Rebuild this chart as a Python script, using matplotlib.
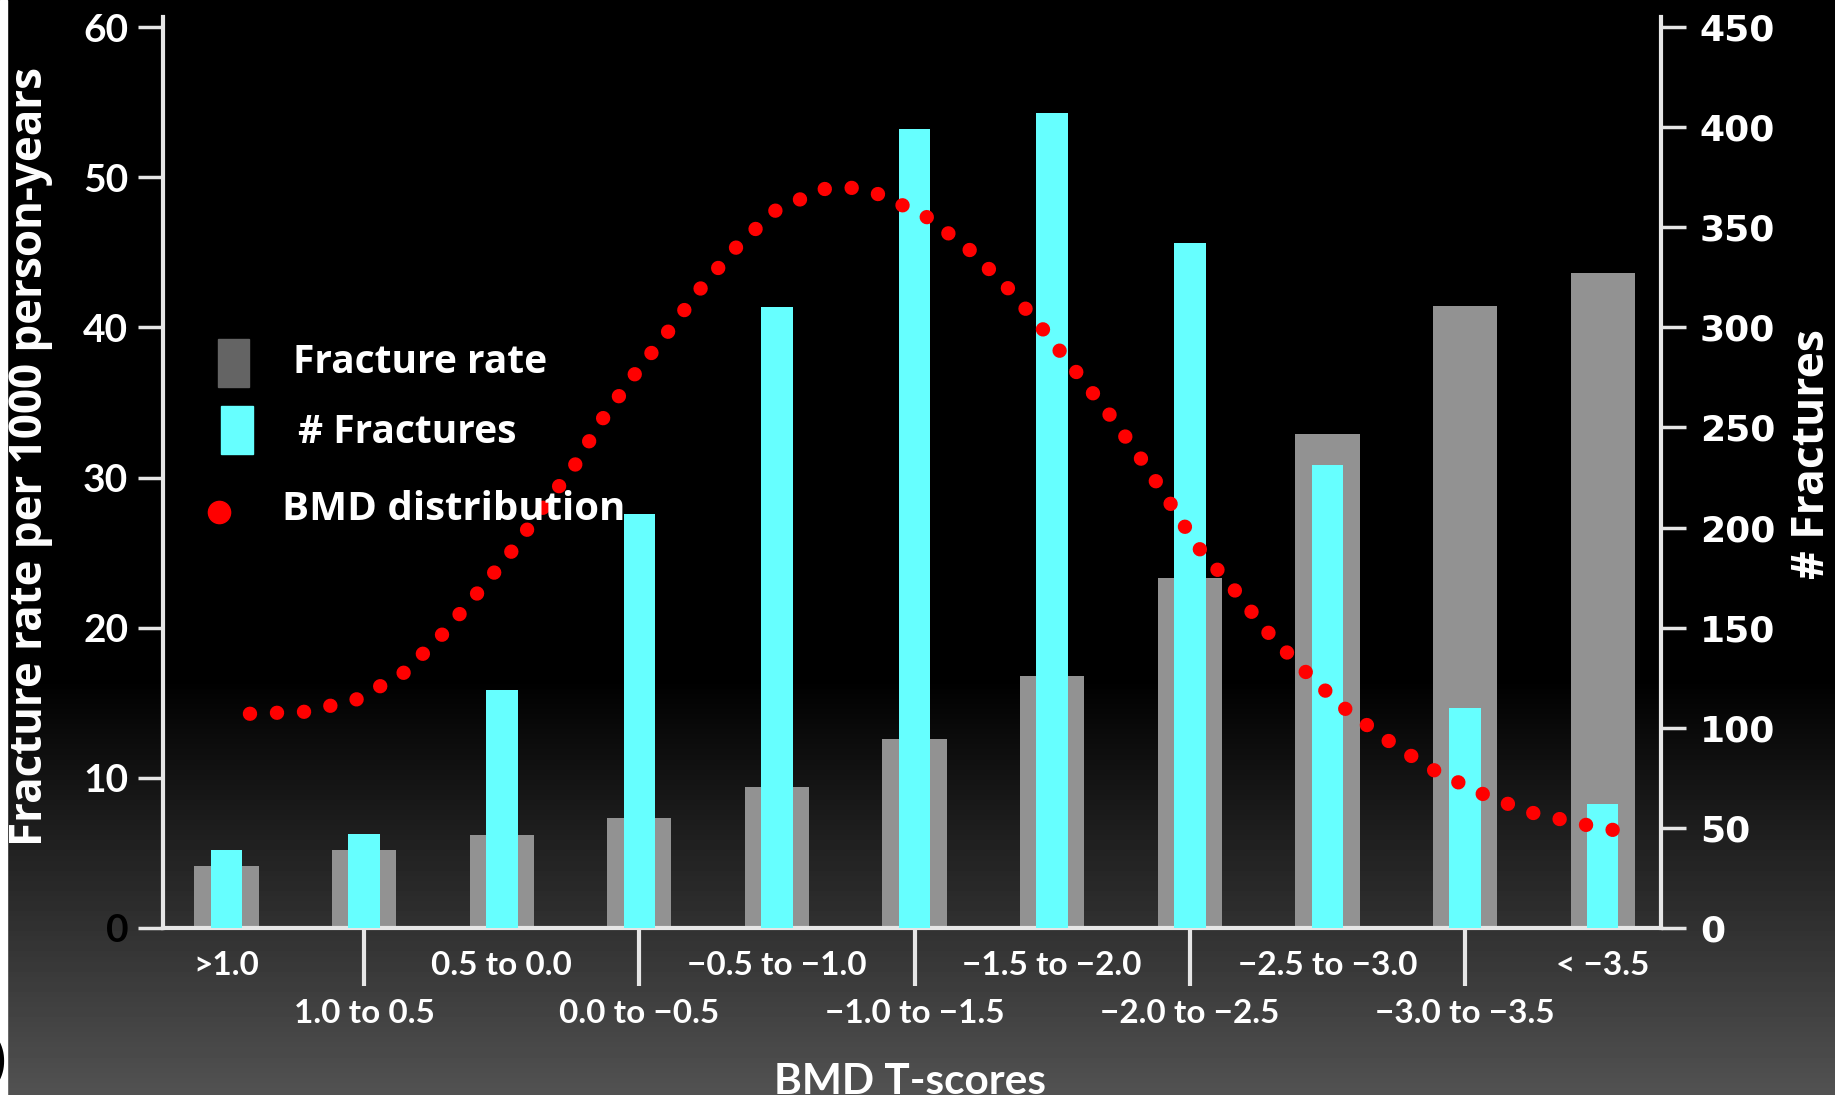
import numpy as np
import matplotlib
matplotlib.use("Agg")
import matplotlib.pyplot as plt
from matplotlib.patches import Rectangle
from matplotlib.lines import Line2D

plt.rcParams['font.family'] = ['Lato', 'DejaVu Sans']
plt.rcParams['font.weight'] = 'bold'
WIDE = ['Open Sans', 'DejaVu Sans']

# data
categories = ['>1.0', '1.0 to 0.5', '0.5 to 0.0', '0.0 to \u22120.5',
              '\u22120.5 to \u22121.0', '\u22121.0 to \u22121.5', '\u22121.5 to \u22122.0',
              '\u22122.0 to \u22122.5', '\u22122.5 to \u22123.0', '\u22123.0 to \u22123.5',
              '< \u22123.5']
fracture_rate = [4.1, 5.2, 6.2, 7.3, 9.4, 12.6, 16.8, 23.3, 32.9, 41.4, 43.6]
n_fractures = [39, 47, 119, 207, 310, 399, 407, 342, 231, 110, 62]

# BMD distribution curve (x in category units, y in right-axis units)
bmd_x = [0.17, 0.57, 0.94, 1.28, 1.56, 1.82, 2.07, 2.30, 2.53, 2.73, 2.96, 3.20,
         3.44, 3.69, 3.98, 4.33, 4.52, 4.72, 5.07, 5.38, 5.66, 5.91, 6.16, 6.40,
         6.63, 6.85, 7.05, 7.30, 7.55, 7.81, 8.10, 8.41, 8.74, 9.09, 9.46, 9.84, 10.23]
bmd_y = [107, 108, 114, 127, 146, 167, 188, 210, 231, 254, 276, 297, 319, 339,
         358, 369, 370, 367, 356, 340, 321, 301, 279, 258, 236, 213, 191, 171,
         149, 130, 111, 95, 80, 68, 58, 52, 47]

left_ticks = [0, 10, 20, 30, 40, 50, 60]
right_ticks = [0, 50, 100, 150, 200, 250, 300, 350, 400, 450]

GRAY = '#929292'
CYAN = '#66ffff'
RED = '#ff0000'
AXC = '#e6e6e6'

W, H = 1835, 1095
fig = plt.figure(figsize=(W / 100, H / 100), dpi=100)

# background gradient + white strip on the left
bg = fig.add_axes([0, 0, 1, 1], zorder=-10)
rows = np.linspace(0, 1, H)
shade = np.clip((rows - 0.62) / 0.38, 0, 1) * 0x52 / 255
grad = np.repeat(shade[:, None], 2, axis=1)
bg.imshow(grad, cmap='gray', vmin=0, vmax=1, aspect='auto', extent=[0, 1, 0, 1],
          origin='upper')
bg.add_patch(Rectangle((0, 0), 7 / W, 1, color='white', transform=bg.transAxes))
bg.set_xlim(0, 1)
bg.set_ylim(0, 1)
bg.axis('off')
fig.text(6 / W, (H - 1062) / H, ')', color='black', fontsize=34, ha='right', va='center')

ax = fig.add_axes([163 / W, (H - 928) / H, (1661 - 163) / W, 911 / H])
ax.set_facecolor('none')
ax2 = ax.twinx()
ax2.set_facecolor('none')

x = np.arange(len(categories))
ax.bar(x, fracture_rate, width=0.467, color=GRAY, zorder=2)
ax2.bar(x, n_fractures, width=0.23, color=CYAN, zorder=2)
ax2.plot(bmd_x, bmd_y, color=RED, linewidth=10.3, linestyle=(0, (0.01, 1.88)),
         dash_capstyle='round', zorder=3)

ax.set_xlim(-0.4615, 10.424)
ax.set_ylim(0, 60 * 911 / 901)
ax2.set_ylim(0, 450 * 911 / 901)

for s in ['top', 'right']:
    ax.spines[s].set_visible(False)
for s in ['top', 'left', 'bottom']:
    ax2.spines[s].set_visible(False)
for s in ['left', 'bottom']:
    ax.spines[s].set_color(AXC)
    ax.spines[s].set_linewidth(3)
ax2.spines['right'].set_color(AXC)
ax2.spines['right'].set_linewidth(3)

ax.set_yticks(left_ticks, labels=[str(v) for v in left_ticks])
ax.tick_params(axis='y', colors=AXC, labelcolor='white', length=18, width=2.5,
               labelsize=28, pad=7)
for lbl in ax.get_yticklabels():
    if lbl.get_text() == '0':
        lbl.set_color('black')

ax2.set_yticks(right_ticks, labels=[str(v) for v in right_ticks])
ax2.tick_params(axis='y', colors=AXC, labelcolor='white', length=18, width=2.5,
                labelsize=26, pad=10)
for lbl in ax2.get_yticklabels():
    lbl.set_fontfamily('DejaVu Sans')
    lbl.set_fontweight('bold')

ax.set_xticks(x[1::2], labels=[''] * len(x[1::2]))
ax.tick_params(axis='x', colors=AXC, length=42, width=3, direction='out')

# staggered category labels
xtr = ax.get_xaxis_transform()
for i, name in enumerate(categories):
    yy = -0.0410 if i % 2 == 0 else -0.0940
    ax.text(i, yy, name, transform=xtr, ha='center', va='center', color='white',
            fontsize=24)

fig.text(31 / W, (H - 456) / H, 'Fracture rate per 1000 person-years', rotation=90,
         ha='center', va='center', color='white', fontsize=31.6, family=WIDE)
fig.text(1812 / W, (H - 454) / H, '# Fractures', rotation=90, ha='center',
         va='center', color='white', fontsize=32, family=WIDE)
fig.text(910 / W, (H - 1063) / H, 'BMD T-scores', ha='center', va='top',
         color='white', fontsize=30.5)

# legend drawn by hand
ftr = fig.transFigure
fig.patches.append(Rectangle((218 / W, (H - 387) / H), 31 / W, 48 / H,
                             color='#646464', transform=ftr, figure=fig))
fig.patches.append(Rectangle((221 / W, (H - 454) / H), 32 / W, 48 / H,
                             color=CYAN, transform=ftr, figure=fig))
fig.lines.append(Line2D([219 / W], [(H - 512) / H], marker='o', markersize=16,
                        color=RED, linestyle='none', transform=ftr, figure=fig))
fig.text(293 / W, (H - 373) / H, 'Fracture rate', color='white', fontsize=28,
         va='baseline', family=WIDE)
fig.text(298 / W, (H - 443) / H, '# Fractures', color='white', fontsize=28,
         va='baseline', family=WIDE)
fig.text(282 / W, (H - 520) / H, 'BMD distribution', color='white', fontsize=29,
         va='baseline', family=WIDE)

fig.savefig('out.png', dpi=100)
